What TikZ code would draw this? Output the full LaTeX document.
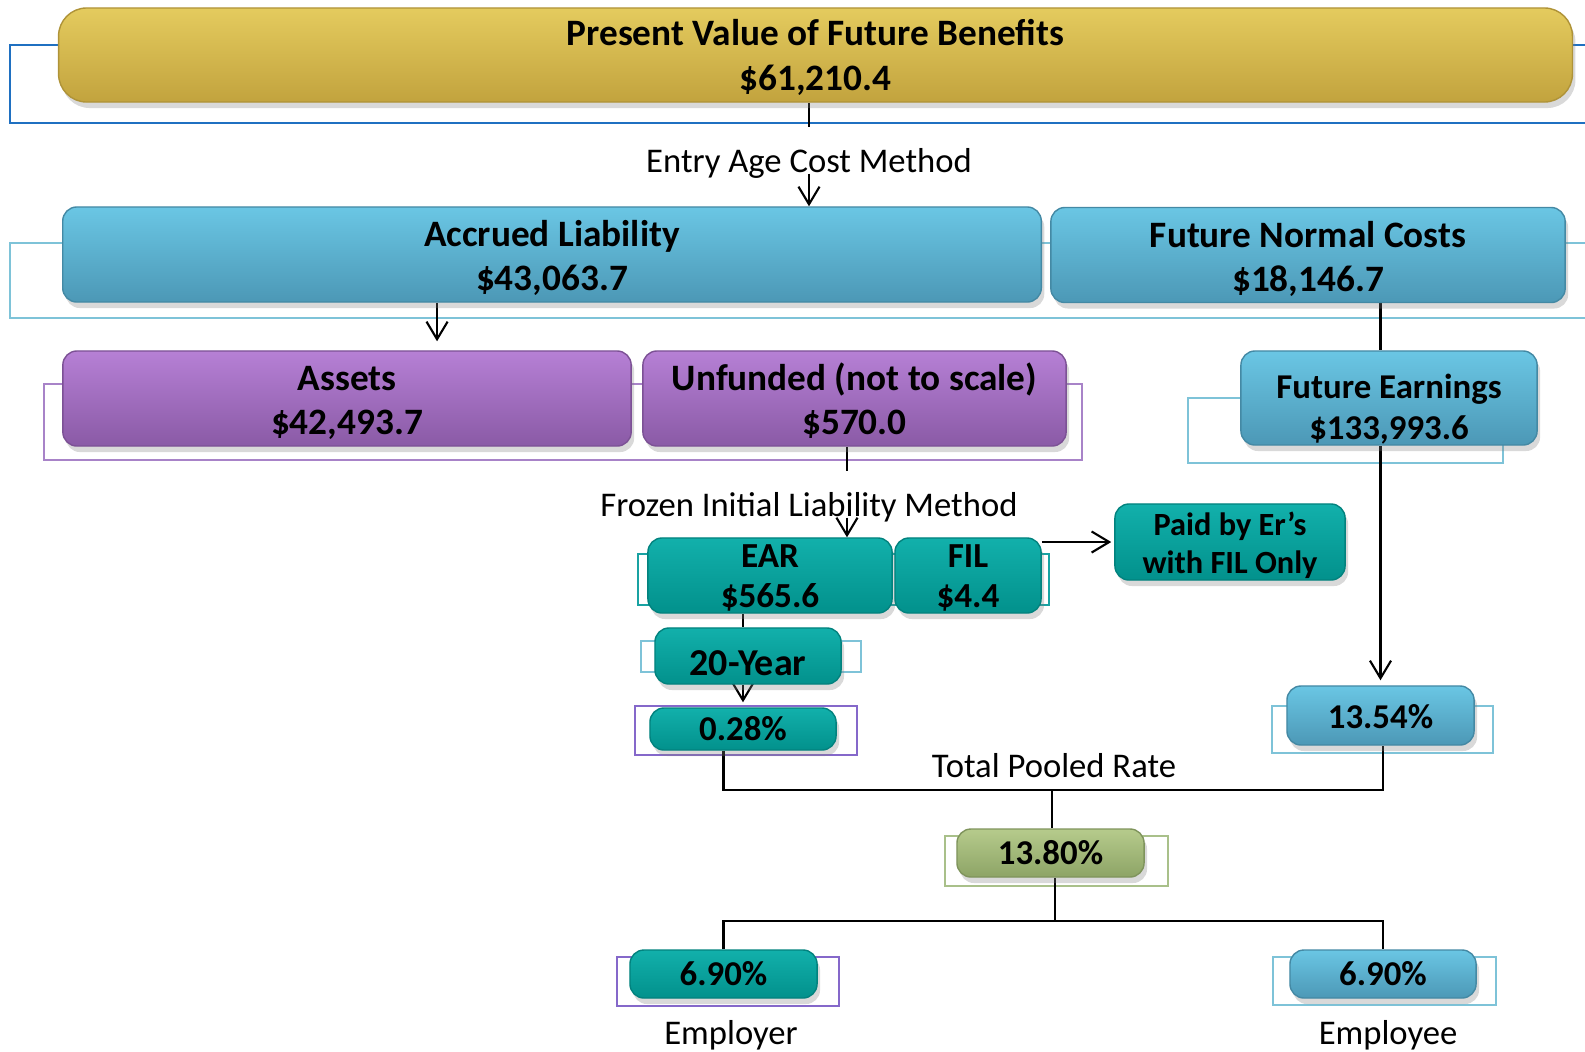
\documentclass[tikz,border=0pt]{standalone}
\usepackage{fontspec}
\setmainfont{Carlito}
\usetikzlibrary{arrows.meta,shadows,backgrounds}

\definecolor{goldtop}{HTML}{E4CB5E}
\definecolor{goldbot}{HTML}{C2A33E}
\definecolor{bluetop}{HTML}{6AC6E4}
\definecolor{bluebot}{HTML}{4C98B6}
\definecolor{purptop}{HTML}{B680D5}
\definecolor{purpbot}{HTML}{8A5AA6}
\definecolor{tealtop}{HTML}{12B0AB}
\definecolor{tealbot}{HTML}{02918C}
\definecolor{greentop}{HTML}{B6CB8C}
\definecolor{greenbot}{HTML}{8DA466}
\definecolor{olblue}{HTML}{1F70C1}
\definecolor{ollight}{HTML}{7EC3D8}
\definecolor{olpurp}{HTML}{A883C8}
\definecolor{olviol}{HTML}{8568CA}
\definecolor{olteal}{HTML}{19A2A2}
\definecolor{olgreen}{HTML}{A9C08A}

\begin{document}
\begin{tikzpicture}[x=0.01cm,y=-0.01cm,
  box/.style={rounded corners=4pt, inner sep=0pt, align=center, text=black,
    line width=0.4pt, font=\bfseries\fontsize{10.6}{12.6}\selectfont,
    drop shadow={shadow xshift=0.3mm, shadow yshift=-0.6mm, opacity=0.3}},
  goldbox/.style={box, top color=goldtop, bottom color=goldbot, draw=goldbot!90!black, rounded corners=8pt},
  bluebox/.style={box, top color=bluetop, bottom color=bluebot, draw=bluebot!90!black},
  purpbox/.style={box, top color=purptop, bottom color=purpbot, draw=purpbot!90!black},
  tealbox/.style={box, top color=tealtop, bottom color=tealbot, draw=tealbot!90!black},
  greenbox/.style={box, top color=greentop, bottom color=greenbot, draw=greenbot!90!black},
  midfont/.style={font=\bfseries\fontsize{9.9}{11.8}\selectfont},
  outline/.style={draw=#1, line width=0.6pt},
  conn/.style={draw=black, line width=0.6pt},
  arr/.style={conn, -{Straight Barb[length=5pt,width=6pt]}},
  lbl/.style={font=\fontsize{9.85}{11}\selectfont, inner sep=0pt, text height=0.44cm, text depth=0.01cm, anchor=base}
]
\useasboundingbox (0,0) rectangle (1585,1051);

% Top row
\node[goldbox, minimum width=15.13cm, minimum height=0.94cm, font=\bfseries\fontsize{10.6}{12.9}\selectfont,
  text height=20.4pt, text depth=0pt] (pvfb) at (815.5,55) {Present Value of Future Benefits\\\$61,210.4};
\node[lbl] (eacm) at (809,172) {Entry Age Cost Method};

% Second row
\node[bluebox, minimum width=9.78cm, minimum height=0.95cm, text height=20.7pt, text depth=0pt] (al) at (552,254.5) {Accrued Liability\\\$43,063.7};
\node[bluebox, minimum width=5.14cm, minimum height=0.95cm, text height=20.7pt, text depth=0pt] (fnc) at (1308,255) {Future Normal Costs\\\$18,146.7};

% Third row
\node[purpbox, minimum width=5.68cm, minimum height=0.95cm, font=\bfseries\fontsize{10.6}{12.4}\selectfont,
  text height=20.5pt, text depth=0pt] (assets) at (347,398.5) {Assets\\\$42,493.7};
\node[purpbox, minimum width=4.23cm, minimum height=0.95cm, font=\bfseries\fontsize{10.6}{12.4}\selectfont,
  text height=20.5pt, text depth=0pt] (unf) at (854.5,398.5) {Unfunded (not to scale)\\\$570.0};
\node[bluebox, midfont, minimum width=2.96cm, minimum height=0.94cm, text height=23.6pt, text depth=0pt] (fe) at (1389,398) {Future Earnings\\\$133,993.6};
\node[lbl] (frz) at (809,516) {Frozen Initial Liability Method};

% Frozen initial liability split
\node[tealbox, minimum width=2.44cm, minimum height=0.75cm, font=\bfseries\fontsize{10}{11.5}\selectfont,
  text height=18.4pt, text depth=0pt] (ear) at (770,575.5) {EAR\\\$565.6};
\node[tealbox, minimum width=1.46cm, minimum height=0.75cm, font=\bfseries\fontsize{10}{11.5}\selectfont,
  text height=18.4pt, text depth=0pt] (fil) at (968,575.5) {FIL\\\$4.4};
\node[tealbox, minimum width=2.30cm, minimum height=0.76cm, font=\bfseries\fontsize{9.2}{10.9}\selectfont,
  text height=18pt, text depth=0pt] (paid) at (1230,542) {Paid by Er’s\\with FIL Only};
\node[tealbox, minimum width=1.86cm, minimum height=0.56cm, font=\bfseries\fontsize{10.8}{12}\selectfont,
  text height=10.8pt, text depth=0pt] (yr20) at (748,656) {20-Year};

% Rates
\node[tealbox, midfont, minimum width=1.86cm, minimum height=0.42cm, text height=6.5pt, text depth=0pt] (p28) at (743,729) {0.28\%};
\node[bluebox, midfont, minimum width=1.87cm, minimum height=0.59cm, text height=7.4pt, text depth=0pt] (p1354) at (1380.5,715.5) {13.54\%};
\node[lbl] (tpr) at (1054,777) {Total Pooled Rate};
\node[greenbox, midfont, minimum width=1.87cm, minimum height=0.48cm, text height=6.8pt, text depth=0pt] (p1380) at (1050.5,853) {13.80\%};
\node[tealbox, midfont, minimum width=1.87cm, minimum height=0.48cm, text height=6.8pt, text depth=0pt] (er) at (723.5,974) {6.90\%};
\node[bluebox, midfont, minimum width=1.86cm, minimum height=0.48cm, text height=6.8pt, text depth=0pt] (ee) at (1383,974) {6.90\%};
\node[lbl] (erl) at (731,1044) {Employer};
\node[lbl] (eel) at (1388,1044) {Employee};

\begin{pgfonlayer}{background}
% Group outlines
\draw[outline=olblue] (10,45) rectangle (1600,123);
\draw[outline=ollight] (10,243) rectangle (1600,318);
\draw[outline=olpurp] (44,384) rectangle (1082,460);
\draw[outline=ollight] (1188,398) rectangle (1503,463);
\draw[outline=olteal] (638,554) rectangle (1049,605);
\draw[outline=ollight] (641,641) rectangle (861,672);
\draw[outline=olviol] (635,706) rectangle (857,755);
\draw[outline=ollight] (1272,706) rectangle (1493,753);
\draw[outline=olgreen] (945,836) rectangle (1168,886);
\draw[outline=olviol] (617,957) rectangle (839,1006);
\draw[outline=ollight] (1273,957) rectangle (1496,1005);

% Connectors
\draw[conn] (eacm.north |- pvfb.south) -- (eacm.north);
\draw[arr] (eacm.south) -- (eacm.south |- al.north);
\path ([xshift=0.9cm]assets.north) coordinate (aa);
\draw[arr, shorten >=0.09cm] (aa |- al.south) -- (aa);
\path ([xshift=-0.075cm]unf.south) coordinate (uu);
\draw[conn] (uu) -- (uu |- frz.north);
\draw[arr] (uu |- frz.south) -- (uu |- ear.north);
\draw[arr, shorten >=0.03cm] (fil.east |- paid.west) -- (paid.west);
\draw[conn] (p28 |- ear.south) -- (p28 |- yr20.north);
\draw[arr, shorten >=0.05cm] (p28 |- yr20.south) -- (p28.north);
\draw[conn] (p1354 |- fnc.south) -- (p1354 |- fe.north);
\draw[arr, shorten >=0.05cm] (p1354 |- fe.south) -- (p1354.north);
\coordinate (j1) at (1052,790);
\draw[conn] (er |- p28.south) |- (j1) -| (ee |- p1354.south);
\draw[conn] (j1) -- (j1 |- p1380.north);
\coordinate (j2) at (1055,921);
\draw[conn] (j2 |- p1380.south) -- (j2);
\draw[conn] (er.north) |- (j2) -| (ee.north);
\end{pgfonlayer}
\end{tikzpicture}
\end{document}
